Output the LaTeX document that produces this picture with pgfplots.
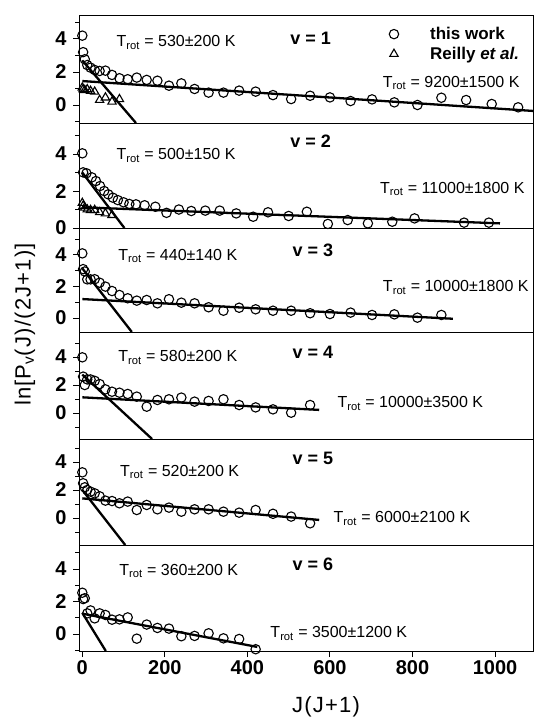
\documentclass[border=0pt]{standalone}
\usepackage{fontspec}
\setmainfont{Liberation Sans}
\newfontfamily\spaced[LetterSpace=5.5]{Liberation Sans}
\usepackage{pgfplots}
\pgfplotsset{compat=1.18}

\newcommand{\fs}[1]{\fontsize{#1}{#1}\selectfont}

\pgfplotsset{
  panel/.style={
    scale only axis, width=454pt, xmin=-8, xmax=1092,
    xtick=\empty, ytick={0,2,4}, minor ytick={-1,1,3,5},
    tick align=outside, ytick pos=left, xtick pos=bottom,
    major tick length=6pt, minor tick length=4pt,
    axis line style={line width=0.9pt},
    every tick/.append style={line width=0.9pt, black},
    tick label style={font=\fs{20}\bfseries},
    yticklabel style={xshift=-3pt},
    /pgf/number format/assume math mode=true,
    /pgf/number format/1000 sep={},
    clip=false, anchor=north west,
  },
  dat/.style={only marks, mark=o, mark size=4.7pt, mark options={line width=1.1pt}, black},
  rei/.style={only marks, mark=triangle, mark size=4.8pt, mark options={line width=1.1pt}, black},
  fit/.style={no marks, line width=2.3pt, black},
}
\tikzset{
  tr/.style={anchor=base west, font=\fs{16}},
  vv/.style={anchor=base west, font=\fs{18}\bfseries},
}

\begin{document}
\begin{tikzpicture}
% v = 1
\begin{axis}[panel, at={(0pt,0pt)}, height=108pt, ymin=-1.09, ymax=5.45,
  legend style={draw=none, fill=none, inner sep=0pt, at={(rel axis cs:0.683,0.898)}, anchor=north west,
    font=\fs{17}\bfseries, row sep=4pt, nodes={inner sep=1pt}},
  legend cell align=left,
  legend image code/.code={\draw[#1] plot coordinates {(0pt,0pt)}; \path (-4pt,0pt) (35pt,0pt);}]
\addplot[dat] coordinates {
 (0,4.2) (2,3.2) (6,2.77) (12,2.42) (20,2.26) (30,2.12) (42,2.06) (56,2.08)
 (72,1.82) (90,1.62) (110,1.56) (132,1.66) (156,1.52) (182,1.47) (210,1.17)
 (240,1.31) (272,0.97) (306,0.75) (342,0.75) (380,0.87) (420,0.81) (462,0.6)
 (506,0.36) (552,0.56) (600,0.46) (650,0.24) (702,0.34) (756,0.16) (812,0.0)
 (870,0.44) (930,0.30) (992,0.06) (1056,-0.14)};
\addplot[rei] coordinates {
 (0,1.05) (2,0.95) (6,0.9) (12,0.95) (20,0.85) (30,0.8) (42,0.3) (56,0.45) (72,0.2) (90,0.35)};
\addplot[fit] coordinates {(0,2.7) (130,-1.09)};
\addplot[fit] coordinates {(0,1.45) (1092,-0.36)};
\legend{this work, Reilly \textit{et al.}}
\node[tr] at (rel axis cs:0.075,0.704) {T\textsubscript{rot} = 530±200 K};
\node[vv] at (rel axis cs:0.458,0.729) {v = 1};
\node[tr, anchor=base east] at (rel axis cs:0.978,0.33) {T\textsubscript{rot} = 9200±1500 K};
\end{axis}
% v = 2
\begin{axis}[panel, at={(0pt,-108pt)}, height=105pt, ymin=0, ymax=5.68]
\addplot[dat] coordinates {
 (0,4.04) (2,3.01) (10,2.96) (23,2.74) (33,2.54) (43,2.27) (53,2.0) (63,1.82)
 (74,1.64) (86,1.51) (100,1.39) (114,1.3) (130,1.28) (151,1.23) (177,1.15)
 (204,0.82) (234,1.0) (264,0.92) (298,0.94) (333,0.94) (373,0.79) (414,0.61)
 (450,0.85) (500,0.65) (544,0.88) (595,0.22) (643,0.43) (692,0.25) (751,0.34)
 (805,0.52) (925,0.29) (985,0.29)};
\addplot[rei] coordinates {
 (0,1.35) (2,1.2) (6,1.1) (12,1.0) (20,0.97) (30,0.97) (42,0.85) (56,0.79) (72,0.7)};
\addplot[fit] coordinates {(0,3.0) (102,0)};
\addplot[fit] coordinates {(0,1.12) (1012,0.25)};
\node[tr] at (rel axis cs:0.075,0.648) {T\textsubscript{rot} = 500±150 K};
\node[vv] at (rel axis cs:0.458,0.762) {v = 2};
\node[tr, anchor=base east] at (rel axis cs:0.989,0.333) {T\textsubscript{rot} = 11000±1800 K};
\end{axis}
% v = 3
\begin{axis}[panel, at={(0pt,-213pt)}, height=104pt, ymin=-0.89, ymax=5.71]
\addplot[dat] coordinates {
 (0,4.1) (2,3.1) (6,2.95) (12,2.45) (20,2.45) (30,2.46) (42,2.24) (56,1.99)
 (72,1.71) (90,1.46) (110,1.25) (132,1.1) (156,1.14) (182,0.93) (210,1.19)
 (240,0.97) (272,0.93) (306,0.68) (342,0.46) (380,0.65) (420,0.55) (462,0.46)
 (506,0.46) (552,0.30) (600,0.25) (650,0.34) (702,0.19) (756,0.23) (812,0.02)
 (870,0.19)};
\addplot[fit] coordinates {(0,3.15) (120,-0.89)};
\addplot[fit] coordinates {(0,1.2) (898,-0.05)};
\node[tr] at (rel axis cs:0.079,0.692) {T\textsubscript{rot} = 440±140 K};
\node[vv] at (rel axis cs:0.4626,0.73) {v = 3};
\node[tr, anchor=base east] at (rel axis cs:0.998,0.385) {T\textsubscript{rot} = 10000±1800 K};
\end{axis}
% v = 4
\begin{axis}[panel, at={(0pt,-317pt)}, height=107pt, ymin=-1.86, ymax=5.79]
\addplot[dat] coordinates {
 (0,3.98) (2,2.6) (6,2.0) (12,2.4) (20,2.4) (30,2.3) (42,2.07) (56,1.69)
 (72,1.52) (90,1.45) (110,1.36) (132,1.17) (156,0.45) (182,0.93) (210,0.98)
 (240,1.1) (272,0.81) (306,0.86) (342,0.98) (380,0.57) (420,0.4) (462,0.26)
 (506,0.02) (552,0.57)};
\addplot[fit] coordinates {(0,2.75) (169,-1.86)};
\addplot[fit] coordinates {(0,1.12) (574,0.22)};
\node[tr] at (rel axis cs:0.079,0.72) {T\textsubscript{rot} = 580±200 K};
\node[vv] at (rel axis cs:0.4626,0.748) {v = 4};
\node[tr] at (rel axis cs:0.5617,0.29) {T\textsubscript{rot} = 10000±3500 K};
\end{axis}
% v = 5
\begin{axis}[panel, at={(0pt,-424pt)}, height=106pt, ymin=-1.93, ymax=5.64]
\addplot[dat] coordinates {
 (0,3.26) (2,2.48) (6,2.19) (12,2.0) (20,1.88) (30,1.76) (42,1.55) (56,1.24)
 (72,1.21) (90,1.05) (110,1.17) (132,0.57) (156,0.93) (182,0.62) (210,0.74)
 (240,0.45) (272,0.62) (306,0.62) (342,0.45) (380,0.38) (420,0.57) (462,0.3)
 (506,0.1) (552,-0.38)};
\addplot[fit] coordinates {(0,2.0) (104,-1.93)};
\addplot[fit] coordinates {(0,1.4) (574,-0.14)};
\node[tr] at (rel axis cs:0.083,0.65) {T\textsubscript{rot} = 520±200 K};
\node[vv] at (rel axis cs:0.4626,0.755) {v = 5};
\node[tr] at (rel axis cs:0.553,0.21) {T\textsubscript{rot} = 6000±2100 K};
\end{axis}
% v = 6
\begin{axis}[panel, at={(0pt,-530pt)}, height=106pt, ymin=-1.05, ymax=5.48,
  xtick={0,200,400,600,800,1000}]
\addplot[dat] coordinates {
 (0,2.54) (2,2.15) (6,2.2) (12,1.27) (20,1.45) (30,0.96) (42,1.27) (56,1.17)
 (72,0.88) (90,0.9) (110,1.02) (132,-0.29) (156,0.58) (182,0.37) (210,0.33)
 (240,-0.14) (272,-0.12) (306,0.04) (342,-0.27) (380,-0.31) (420,-0.94)};
\addplot[fit] coordinates {(0,1.3) (57,-1.05)};
\addplot[fit] coordinates {(0,1.25) (424,-0.8)};
\node[tr] at (rel axis cs:0.081,0.717) {T\textsubscript{rot} = 360±200 K};
\node[vv] at (rel axis cs:0.4626,0.764) {v = 6};
\node[tr] at (rel axis cs:0.414,0.123) {T\textsubscript{rot} = 3500±1200 K};
\end{axis}
\node[rotate=90, font=\spaced\fs{22}] at (-54pt,-309.5pt) {ln[P\textsubscript{v}(J)/(2J+1)]};
\node[font=\spaced\fs{22}] at (247pt,-692pt) {J(J+1)};
\pgfresetboundingbox
\path[use as bounding box] (-79pt,-703pt) rectangle (455pt,15pt);
\end{tikzpicture}
\end{document}
